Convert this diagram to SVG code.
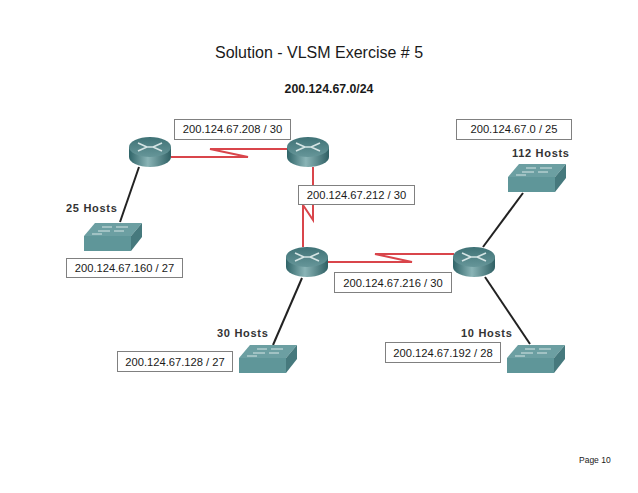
<svg xmlns="http://www.w3.org/2000/svg" width="638" height="493" viewBox="0 0 638 493">
<style>
text{font-family:"Liberation Sans",Arial,sans-serif;fill:#1a1a1a}
.lbl{font-size:11.2px;text-anchor:middle}
.hosts{font-size:11px;font-weight:700;letter-spacing:.7px;fill:#333}
.box{fill:#fff;stroke:#808080;stroke-width:1}
.red{fill:none;stroke:#d9454b;stroke-width:2}
.blk{fill:none;stroke:#222;stroke-width:2}
.x{fill:none;stroke:#d5e5e5;stroke-width:1.6}
.top{fill:#6c9fa2}.front{fill:#5f9699}.side{fill:#46797d}
</style>
<defs>
<linearGradient id="rb" x1="0" x2="1" y1="0" y2="0"><stop offset="0" stop-color="#2f6468"/><stop offset=".45" stop-color="#8ab4b6"/><stop offset="1" stop-color="#2f6064"/></linearGradient>
<linearGradient id="rt" x1="0" x2="0" y1="0" y2="1"><stop offset="0" stop-color="#3f7276"/><stop offset="1" stop-color="#669699"/></linearGradient>
<g id="router">
<path d="M-21,-5V5A21,10 0 0 0 21,5V-5Z" fill="url(#rb)"/>
<ellipse cx="0" cy="-5" rx="21" ry="10" fill="url(#rt)"/>
<path class="x" d="M-12,-9L-3,-5L-12,-1M12,-9L3,-5L12,-1M-3,-5H3" />
</g>
<g id="switch">
<path class="top" d="M11,0H58L47,13H0Z"/>
<path class="front" d="M0,13H47V28H0Z"/>
<path class="side" d="M47,13L58,0V14L47,28Z"/>
<path d="M18,4H28M32,4H44M14,8H26M30,8H40M8,11H18" stroke="#d5e5e5" stroke-width="1" fill="none"/>
</g>
</defs>
<rect width="638" height="493" fill="#fff"/>
<text x="319" y="58" font-size="16" text-anchor="middle">Solution - VLSM Exercise # 5</text>
<text x="329" y="93" font-size="12.300" font-weight="700" text-anchor="middle" fill="#333">200.124.67.0/24</text>
<g id="connectors">
<path class="red" d="M171,157H248L210,149H287"/>
<path class="red" d="M313,167V220L303,205V247"/>
<path class="red" d="M328,262H412L375,254H454"/>
<path class="blk" d="M139,167L120,222"/>
<path class="blk" d="M483,247L523,193"/>
<path class="blk" d="M485,277L530,344"/>
<path class="blk" d="M302,278L273,345"/>
</g>
<g id="router1"><use href="#router" x="150" y="152"/></g>
<g id="router2"><use href="#router" x="308" y="152"/></g>
<g id="router3"><use href="#router" x="307" y="262"/></g>
<g id="router4"><use href="#router" x="474" y="262"/></g>
<g id="switch25"><use href="#switch" x="84" y="223"/><text class="hosts" x="66" y="212">25 Hosts</text></g>
<g id="switch112"><use href="#switch" x="508" y="164"/><text class="hosts" x="512" y="157">112 Hosts</text></g>
<g id="switch30"><use href="#switch" x="239" y="345"/><text class="hosts" x="217" y="337">30 Hosts</text></g>
<g id="switch10"><use href="#switch" x="507" y="345"/><text class="hosts" x="461" y="337">10 Hosts</text></g>
<g id="net208"><rect class="box" x="174.500" y="119.500" width="116" height="20"/><text class="lbl" x="232.500" y="133">200.124.67.208 / 30</text></g>
<g id="net212"><rect class="box" x="298.500" y="185.500" width="116" height="19"/><text class="lbl" x="356.500" y="199">200.124.67.212 / 30</text></g>
<g id="net0"><rect class="box" x="456.500" y="119.500" width="115" height="20"/><text class="lbl" x="514" y="133">200.124.67.0 / 25</text></g>
<g id="net160"><rect class="box" x="66.500" y="258.500" width="116" height="19"/><text class="lbl" x="124.500" y="272">200.124.67.160 / 27</text></g>
<g id="net216"><rect class="box" x="334.500" y="272.500" width="117" height="20"/><text class="lbl" x="393" y="286.500">200.124.67.216 / 30</text></g>
<g id="net128"><rect class="box" x="117.500" y="351.500" width="115" height="20"/><text class="lbl" x="175" y="365.500">200.124.67.128 / 27</text></g>
<g id="net192"><rect class="box" x="385.500" y="342.500" width="115" height="20"/><text class="lbl" x="443" y="356.500">200.124.67.192 / 28</text></g>
<g id="page"><text x="579" y="463" font-size="8.500">Page 10</text></g>
</svg>
